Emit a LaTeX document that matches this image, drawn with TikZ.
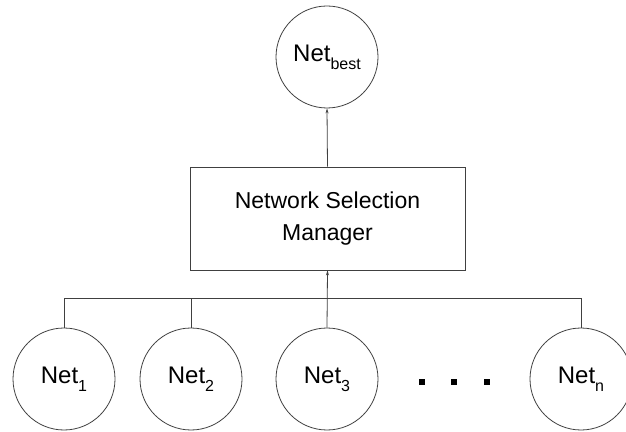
\documentclass[tikz,border=0pt]{standalone}
\usepackage{fontspec}
\setmainfont{Liberation Sans}
\usetikzlibrary{arrows.meta}
\newcommand{\netlabel}[1]{Net\raisebox{-8pt}{\fontsize{16}{16}\selectfont #1}}

\begin{document}
\begin{tikzpicture}[x=1pt,y=1pt,
  net/.style={circle,draw=black!75,line width=0.8pt,minimum size=102pt,inner sep=0pt,font=\fontsize{24}{24}\selectfont},
  link/.style={draw=black!75,line width=0.8pt},
  tip/.style={-{Stealth[length=5pt,width=3pt]}},
  dotbox/.style={fill=black,minimum size=6pt,inner sep=0pt}]
\useasboundingbox (0,0) rectangle (626,431);

\node[net] (best) at (327,374) {\netlabel{best}};
\node[draw=black!75,line width=0.8pt,minimum width=275pt,minimum height=103pt,
  align=center,font=\fontsize{23}{32}\selectfont] (nsm) at (327.5,212.5) {Network Selection\\Manager};

% the networks
\node[net] (n1) at (64,52) {\netlabel{1}};
\node[net] (n2) at (191,52) {\netlabel{2}};
\node[net] (n3) at (327,52) {\netlabel{3}};
\node[net] (nn) at (581,52) {\netlabel{n}};
\foreach \x/\name in {422/d1,454/d2,487/d3} {
\node[dotbox] (\name) at (\x,49) {};
}

% connectors
\draw[link] (n1.north) -- ++(0,29) -| (nn.north);
\draw[link] (n2.north) -- ++(0,29);
\draw[link,tip] (n3.north) -- (nsm.south);
\draw[link,tip] (nsm.north) -- (best.south);
\end{tikzpicture}
\end{document}
